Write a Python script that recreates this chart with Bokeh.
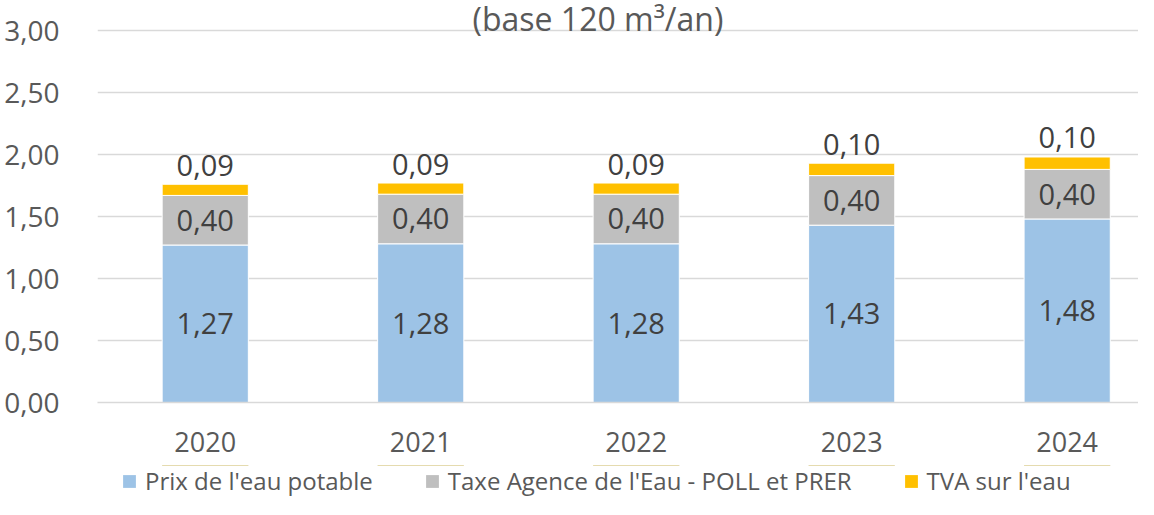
from bokeh.plotting import figure
from bokeh.layouts import column
from bokeh.models import ColumnDataSource, Range1d, FixedTicker, Legend, LegendItem, Label
from bokeh.core.properties import value
from bokeh.embed import file_html
from bokeh.resources import INLINE

# ---- data ----
years = ["2020", "2021", "2022", "2023", "2024"]
prix = [1.27, 1.28, 1.28, 1.43, 1.48]
taxe = [0.40, 0.40, 0.40, 0.40, 0.40]
tva = [0.09, 0.09, 0.09, 0.10, 0.10]
series_names = ["Prix de l'eau potable", "Taxe Agence de l'Eau - POLL et PRER", "TVA sur l'eau"]
y_ticks = [0.0, 0.5, 1.0, 1.5, 2.0, 2.5, 3.0]
y_tick_labels = ["0,00", "0,50", "1,00", "1,50", "2,00", "2,50", "3,00"]
title_text = "(base 120 m\u00b3/an)"

colors = ["#9DC3E6", "#BFBFBF", "#FFC000"]
FONT = "Open Sans"


def fr(v):
    return f"{v:.2f}".replace(".", ",")


xs = list(range(len(years)))
source = ColumnDataSource(dict(
    x=xs, prix=prix, taxe=taxe, tva=tva,
    prix_y=[a / 2 for a in prix],
    taxe_y=[a + b / 2 for a, b in zip(prix, taxe)],
    tva_y=[a + b + c for a, b, c in zip(prix, taxe, tva)],
    prix_t=[fr(v) for v in prix],
    taxe_t=[fr(v) for v in taxe],
    tva_t=[fr(v) for v in tva],
))

p = figure(width=1138, height=465, output_backend="svg", toolbar_location=None,
           x_range=Range1d(-0.5, 4.331), y_range=Range1d(0, 3.242),
           min_border_left=97, min_border_right=0, min_border_top=0, min_border_bottom=63)
p.outline_line_color = None
p.background_fill_color = "white"
p.border_fill_color = "white"

renderers = p.vbar_stack(["prix", "taxe", "tva"], x="x", width=0.4, source=source,
                         fill_color=colors, line_color="white", line_width=1)

# data labels
for ycol, tcol, off in (("prix_y", "prix_t", 0), ("taxe_y", "taxe_t", 0), ("tva_y", "tva_t", -19)):
    p.text(x="x", y=ycol, text=tcol, source=source, text_align="center", y_offset=off,
           text_baseline="middle", text_font=value(FONT), text_font_size="29px",
           text_color="#404040")

# axes
p.xaxis.ticker = FixedTicker(ticks=xs)
p.xaxis.major_label_overrides = {i: y for i, y in zip(xs, years)}
p.xaxis.major_tick_line_color = None
p.xaxis.minor_tick_line_color = None
p.xaxis.axis_line_color = "#D9D9D9"
p.xaxis.axis_line_width = 1.5
p.xaxis.major_label_text_font = FONT
p.xaxis.major_label_text_font_size = "27px"
p.xaxis.major_label_text_color = "#595959"
p.xaxis.major_label_standoff = 23

p.yaxis.ticker = FixedTicker(ticks=y_ticks)
p.yaxis.major_label_overrides = {t: l for t, l in zip(y_ticks, y_tick_labels)}
p.yaxis.major_tick_line_color = None
p.yaxis.minor_tick_line_color = None
p.yaxis.axis_line_color = None
p.yaxis.major_label_text_font = FONT
p.yaxis.major_label_text_font_size = "28px"
p.yaxis.major_label_text_color = "#595959"
p.yaxis.major_label_standoff = 32

p.xgrid.grid_line_color = None
p.ygrid.grid_line_color = "#D9D9D9"
p.ygrid.grid_line_width = 1.5

# title (its first line is cut off in the reference)
p.add_layout(Label(x=1.8225, y=3.097, text=title_text, text_align="center",
                   text_baseline="alphabetic", text_font=FONT, text_font_size="32px",
                   text_color="#595959"))

# legend strip below the chart (frames are aligned with the main chart by the column)
pl = figure(width=1138, height=34, output_backend="svg", toolbar_location=None,
            x_range=Range1d(-0.5, 4.331), y_range=Range1d(-2, -1),
            x_axis_location=None, y_axis_location=None,
            min_border_left=97, min_border_right=0, min_border_top=0, min_border_bottom=0)
pl.outline_line_color = None
pl.grid.visible = False
pl.background_fill_color = "white"
pl.border_fill_color = "white"
# same stacked series (outside this strip's visible range) so the legend swatches are drawn
leg_renderers = pl.vbar_stack(["prix", "taxe", "tva"], x="x", width=0.4, source=source,
                              fill_color=colors, line_color=None, line_alpha=0)
legend = Legend(items=[LegendItem(label=n, renderers=[r]) for n, r in zip(series_names, leg_renderers)],
                orientation="horizontal", location=(24, 2),
                label_text_font=FONT, label_text_font_size="24px", label_text_color="#595959",
                glyph_width=16, glyph_height=16, label_standoff=8, spacing=51,
                label_height=30, padding=0, margin=0, border_line_color=None,
                background_fill_alpha=0)
pl.add_layout(legend, "center")

layout = column(p, pl, spacing=0)
open("out.html", "w").write(file_html(layout, INLINE))
